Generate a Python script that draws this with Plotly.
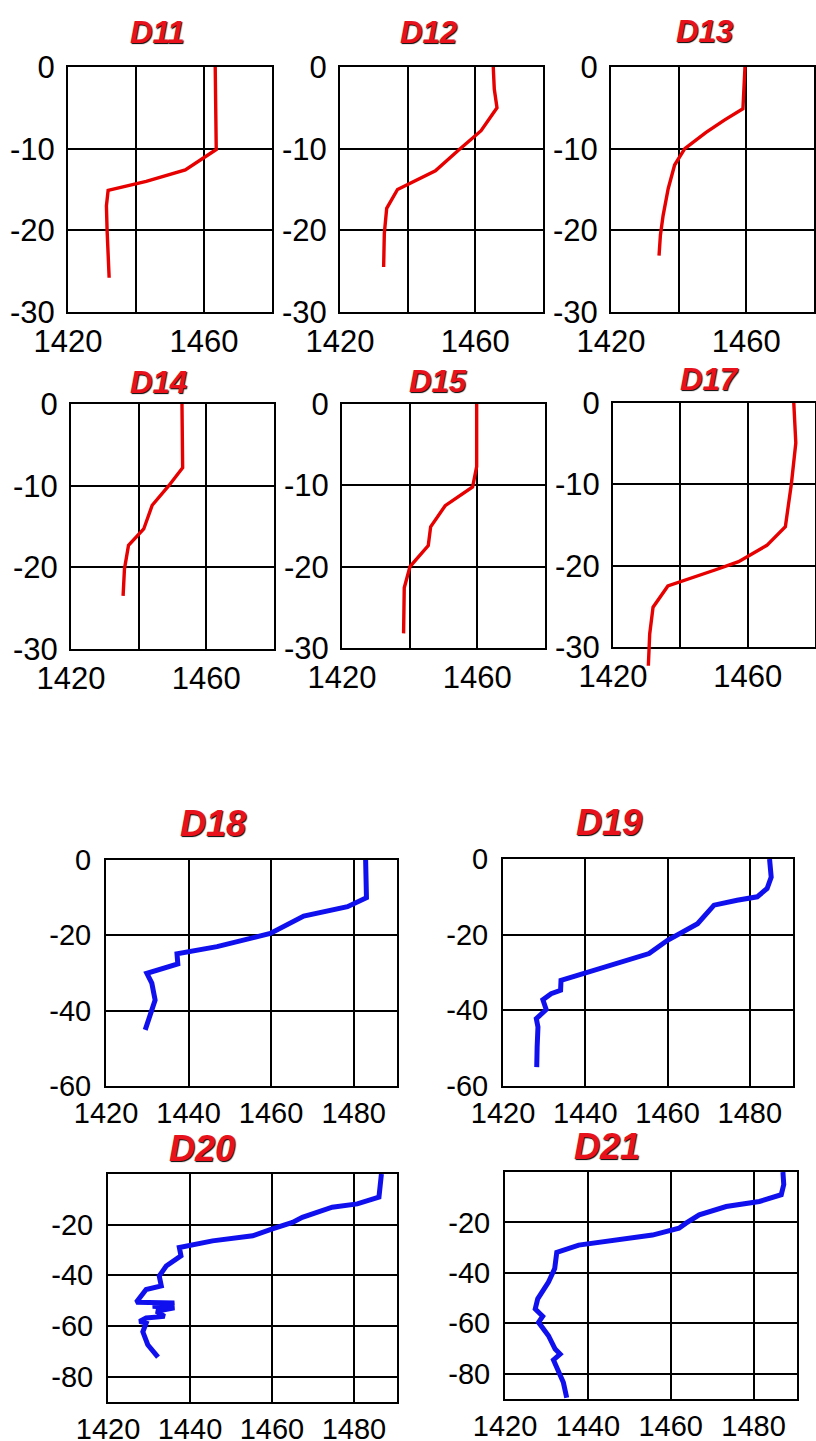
import plotly.graph_objects as go

W, H = 816, 1441

# ---------------- data (sound speed m/s vs depth m) ----------------
stations = ["D11", "D12", "D13", "D14", "D15", "D17", "D18", "D19", "D20", "D21"]

d11_speed = [1463.3, 1463.4, 1463.6, 1454.5, 1443.0, 1431.8, 1431.3, 1431.5, 1431.8, 1432.1]
d11_depth = [0, -5, -10.1, -12.6, -14.0, -15.1, -17, -20, -22.9, -25.8]

d12_speed = [1465.3, 1465.6, 1466.4, 1461.7, 1455.0, 1448.2, 1437.0, 1433.8, 1433.1, 1432.9]
d12_depth = [0, -2.7, -5, -7.8, -10.2, -12.7, -15, -17.3, -20.4, -24.5]

d13_speed = [1459.6, 1459.0, 1453.5, 1448.1, 1441.8, 1438.8, 1436.9, 1435.4, 1434.6, 1434.2]
d13_depth = [0, -5.1, -6.5, -8, -10, -12, -14.9, -18.2, -20.6, -23.1]

d14_speed = [1452.8, 1453.0, 1448.9, 1444.0, 1441.5, 1437.0, 1435.8, 1435.4]
d14_depth = [0, -7.8, -10, -12.4, -15.3, -17.3, -20.2, -23.5]

d15_speed = [1459.8, 1459.8, 1458.6, 1450.5, 1446.2, 1445.5, 1440.1, 1438.4, 1438.2]
d15_depth = [0, -7.7, -10.2, -12.5, -15.1, -17.4, -20, -22.6, -28.2]

d17_speed = [1473.7, 1474.3, 1473.0, 1471.2, 1465.7, 1457.3, 1450.5, 1436.3, 1431.9, 1430.9, 1430.5]
d17_depth = [0, -4.9, -9.9, -15.2, -17.5, -19.5, -20.5, -22.5, -25.1, -28.4, -32.3]

d18_speed = [1482.9, 1483.1, 1478.5, 1467.9, 1459.8, 1455.8, 1446.9, 1437.2, 1437.4, 1429.9,
             1431.1, 1431.9, 1429.5]
d18_depth = [0, -10, -12.4, -14.9, -19.5, -20.5, -23, -24.9, -27.6, -30.1, -32.7, -37.2, -45.1]

d19_speed = [1484.8, 1485.2, 1484.2, 1481.8, 1476.9, 1471.3, 1467.3, 1460.0, 1455.5, 1446.3,
             1434.1, 1434.0, 1431.7, 1429.7, 1430.5, 1428.1, 1428.5, 1428.3, 1428.2]
d19_depth = [0, -4.8, -7.8, -10, -10.9, -12.2, -17.1, -21.5, -25, -28.1,
             -32.1, -34.7, -35.6, -37.2, -39.8, -42.2, -44.4, -49.7, -55]

d20_speed = [1486.7, 1486.1, 1480.8, 1474.7, 1467.4, 1465.0, 1460.1, 1455.3, 1445.5, 1437.4,
             1437.8, 1434.2, 1432.5, 1433.0, 1429.3, 1428.1, 1426.9, 1436.2, 1430.9, 1436.2,
             1431.8, 1433.8, 1429.3, 1427.7, 1429.3, 1428.5, 1429.7, 1432.2]
d20_depth = [0, -9.1, -11.8, -13.1, -17.1, -19.1, -21.7, -24.4, -26.4, -29,
             -32.3, -36.3, -40.3, -44.2, -45.6, -48.3, -50.6, -50.9, -52.2, -52.8,
             -54.2, -56.2, -56.8, -58.2, -58.9, -62.3, -67.4, -72.3]

d21_speed = [1487.1, 1487.3, 1486.7, 1481.4, 1473.4, 1466.9, 1463.7, 1462.0, 1455.6, 1447.5,
             1437.8, 1432.5, 1432.0, 1430.5, 1429.3, 1427.9, 1427.3, 1429.1, 1428.1, 1430.5,
             1432.1, 1433.3, 1431.7, 1432.9, 1434.1, 1434.9]
d21_depth = [0, -5, -9, -11.7, -13.7, -17, -20.3, -22.3, -25, -27,
             -29, -31.9, -38.3, -43.6, -46.9, -50.3, -54.3, -57.2, -59.6, -64.9,
             -70.2, -72.2, -74.5, -78.9, -83.5, -89.5]

speeds = [d11_speed, d12_speed, d13_speed, d14_speed, d15_speed, d17_speed,
          d18_speed, d19_speed, d20_speed, d21_speed]
depths = [d11_depth, d12_depth, d13_depth, d14_depth, d15_depth, d17_depth,
          d18_depth, d19_depth, d20_depth, d21_depth]

top_xticks = [1420, 1440, 1460]
top_xlabels = ["1420", "", "1460"]
top_yticks = [0, -10, -20, -30]
bot_xticks = [1420, 1440, 1460, 1480]
bot_xlabels = ["1420", "1440", "1460", "1480"]
bot_yticks_a = [0, -20, -40, -60]
bot_ylabels_a = ["0", "-20", "-40", "-60"]
bot_yticks_b = [0, -20, -40, -60, -80]
bot_ylabels_b = ["", "-20", "-40", "-60", "-80"]

# ---------------- layout geometry (pixels) ----------------
# (left, right, top, bottom)
boxes = [
    (68, 272, 67, 312), (340, 543, 67, 312), (611, 814, 67, 312),
    (71, 274, 404, 649), (342, 545, 404, 648), (613, 815, 403, 647),
    (106, 397, 860, 1086), (503, 793, 859, 1086),
    (108, 397, 1174, 1402), (505, 797, 1172, 1399),
]
title_pos = [
    (157, 32), (428, 32), (704, 31),
    (158, 382), (438, 381), (709, 379),
    (213, 823), (609, 822), (202, 1148), (607, 1146),
]

RED = "#e60000"
BLUE = "#1010ee"
TITLE_RED = "#e8121c"
EXT_IDX = 5          # D17 profile runs below the frame bottom in the original
EXT_BOTTOM_PX = 672  # extra (invisible) panel height for that overshoot

fig = go.Figure()
layout = dict(
    width=W, height=H, autosize=False,
    margin=dict(l=0, r=0, t=0, b=0, pad=0, autoexpand=False),
    paper_bgcolor="white", plot_bgcolor="rgba(0,0,0,0)",
    showlegend=False,
    font=dict(family="Liberation Sans, Arial, sans-serif", color="black"),
    annotations=[],
)

for i, name in enumerate(stations):
    n = i + 1
    l, r, t, b = boxes[i]
    top = i < 6
    xa = "x" if n == 1 else f"x{n}"
    ya = "y" if n == 1 else f"y{n}"
    if top:
        xr = [1420, 1480]
        xt, xl = top_xticks, top_xlabels
        yr = [-30, 0]
        yt, yl = top_yticks, [str(v) for v in top_yticks]
        tfs = 31
        xstand, ystand = 1, 5
    else:
        xr = [1420, 1490.5]
        xt, xl = bot_xticks, bot_xlabels
        if i < 8:
            yr = [-60, 0]
            yt, yl = bot_yticks_a, bot_ylabels_a
        else:
            yr = [-90, 0]
            yt, yl = bot_yticks_b, bot_ylabels_b
        tfs = 29
        xstand, ystand = 0, 7
    axkey = "xaxis" if n == 1 else f"xaxis{n}"
    aykey = "yaxis" if n == 1 else f"yaxis{n}"
    layout[axkey] = dict(
        domain=[l / W, r / W], range=xr, anchor=ya,
        tickmode="array", tickvals=xt, ticktext=xl,
        showgrid=True, gridcolor="black", gridwidth=1.8,
        showline=True, linecolor="black", linewidth=2, mirror=True,
        zeroline=False, ticks="", ticklabelstandoff=xstand, automargin=False,
        tickfont=dict(size=tfs, color="black"),
        fixedrange=True,
    )
    layout[aykey] = dict(
        domain=[1 - b / H, 1 - t / H], range=yr, anchor=xa,
        tickmode="array", tickvals=yt, ticktext=yl,
        showgrid=True, gridcolor="black", gridwidth=1.8,
        showline=True, linecolor="black", linewidth=2, mirror=True,
        zeroline=False, ticks="", ticklabelstandoff=ystand, automargin=False,
        tickfont=dict(size=tfs, color="black"),
        fixedrange=True,
    )

    txa, tya = xa, ya
    if i == EXT_IDX:
        # keep the framed D17 panel alive with an empty trace
        fig.add_trace(go.Scatter(x=[], y=[], mode="lines", xaxis=xa, yaxis=ya,
                                 hoverinfo="skip"))
        # hidden companion axes with identical scale, taller domain so the
        # profile can continue below the frame as in the original figure
        px_per_unit = (b - t) / (yr[1] - yr[0])
        ext_min = -(EXT_BOTTOM_PX - t) / px_per_unit
        layout["xaxis11"] = dict(domain=[l / W, r / W], range=xr, anchor="y11",
                                 visible=False, fixedrange=True)
        layout["yaxis11"] = dict(domain=[1 - EXT_BOTTOM_PX / H, 1 - t / H],
                                 range=[ext_min, 0], anchor="x11",
                                 visible=False, fixedrange=True)
        txa, tya = "x11", "y11"

    fig.add_trace(go.Scatter(
        x=speeds[i], y=depths[i], mode="lines",
        line=dict(color=RED if top else BLUE, width=3.4 if top else 5),
        xaxis=txa, yaxis=tya, hoverinfo="skip",
    ))

    cx, cy = title_pos[i]
    layout["annotations"].append(dict(
        text=name, xref="paper", yref="paper",
        x=cx / W, y=1 - cy / H, xanchor="center", yanchor="middle",
        showarrow=False,
        font=dict(size=31 if top else 36, color=TITLE_RED,
                  family="Liberation Sans, Arial, sans-serif",
                  weight="bold", style="italic",
                  shadow="1px 1px 1px #000"),
    ))

fig.update_layout(**layout)
fig.write_html(
    "out.html",
    config={"displayModeBar": False},
    post_script="document.body.style.margin='0';document.body.style.overflow='hidden';",
)
